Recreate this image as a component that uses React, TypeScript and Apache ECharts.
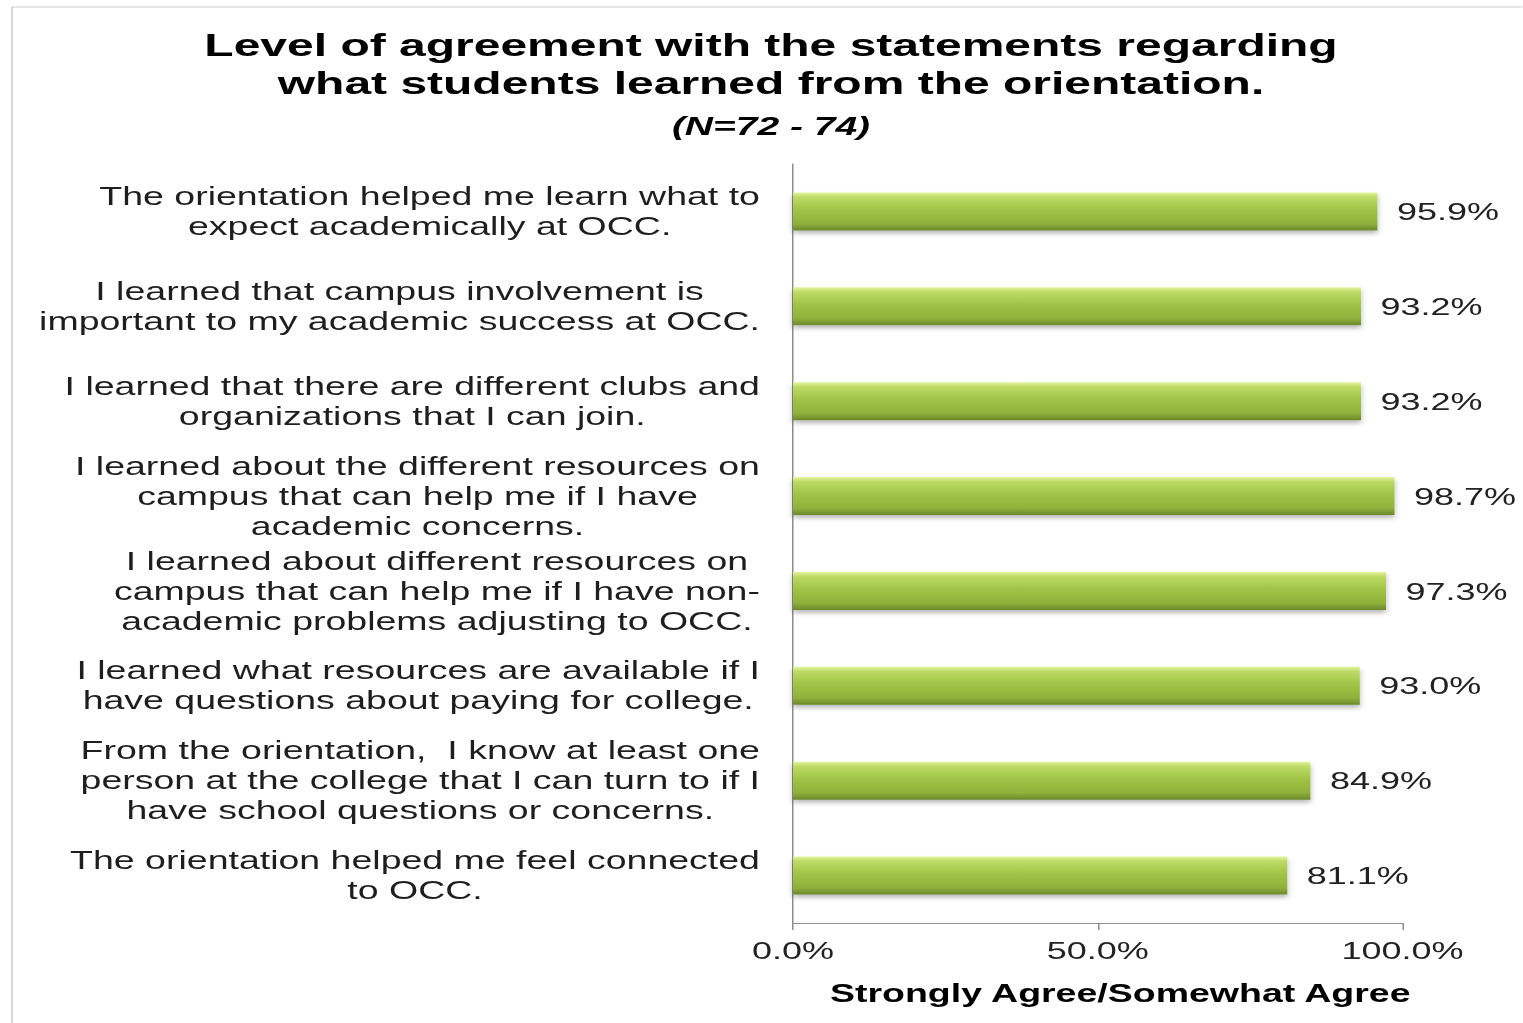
import React, { useEffect, useRef } from "react";
import * as echarts from "echarts";

const categories: string[] = [
  "The orientation helped me learn what to\nexpect academically at OCC.",
  "I learned that campus involvement is\nimportant to my academic success at OCC.",
  "I learned that there are different clubs and\norganizations that I can join.",
  "I learned about the different resources on\ncampus that can help me if I have\nacademic concerns.",
  "I learned about different resources on\ncampus that can help me if I have non-\nacademic problems adjusting to OCC.",
  "I learned what resources are available if I\nhave questions about paying for college.",
  "From the orientation,  I know at least one\nperson at the college that I can turn to if I\nhave school questions or concerns.",
  "The orientation helped me feel connected\nto OCC.",
];

const values: number[] = [95.9, 93.2, 93.2, 98.7, 97.3, 93.0, 84.9, 81.1];

const titleLines: string[] = [
  "Level of agreement with the statements regarding",
  "what students learned from the orientation.",
];
const subtitle = "(N=72 - 74)";
const axisTitle = "Strongly Agree/Somewhat Agree";

const S = 1.5; // horizontal stretch of the reference
const W = 1523 / S;
const FONT = "'Liberation Sans', Arial, Helvetica, sans-serif";

export default function App() {
  const ref = useRef<HTMLDivElement>(null);

  useEffect(() => {
    if (!ref.current) return;
    const chart = echarts.init(ref.current, null, { renderer: "svg" });
    const option: any = {
      animation: false,
      backgroundColor: "#ffffff",
      textStyle: { fontFamily: FONT },
      graphic: [
        {
          type: "rect",
          shape: { x: 8, y: 7, width: 1200, height: 1200 },
          style: { fill: "none", stroke: "#c9c9c9", lineWidth: 1 },
          silent: true,
        },
      ],
      title: {
        text: titleLines.join("\n"),
        subtext: subtitle,
        left: 514,
        top: 26,
        textAlign: "center",
        padding: 0,
        itemGap: 9,
        textStyle: {
          fontFamily: FONT,
          fontSize: 32,
          fontWeight: "bold",
          color: "#000000",
          lineHeight: 38,
        },
        subtextStyle: {
          fontFamily: FONT,
          fontSize: 26,
          fontWeight: "bold",
          fontStyle: "italic",
          color: "#000000",
          lineHeight: 30,
        },
      },
      grid: {
        left: 528.7,
        right: W - 935.3,
        top: 164,
        bottom: 100,
        containLabel: false,
      },
      xAxis: {
        type: "value",
        min: 0,
        max: 100,
        interval: 50,
        name: axisTitle,
        nameLocation: "middle",
        nameGap: 58,
        nameTextStyle: {
          fontFamily: FONT,
          fontSize: 25,
          fontWeight: "bold",
          color: "#000000",
          padding: [0, 0, 0, 30],
        },
        axisLine: { show: true, lineStyle: { color: "#8c8c8c", width: 1 } },
        axisTick: { show: true, length: 7, lineStyle: { color: "#8c8c8c" } },
        splitLine: { show: false },
        axisLabel: {
          margin: 15,
          fontFamily: FONT,
          fontSize: 24,
          color: "#222222",
          formatter: (v: number) => v.toFixed(1) + "%",
        },
      },
      yAxis: {
        type: "category",
        inverse: true,
        data: categories,
        axisLine: { show: true, lineStyle: { color: "#8c8c8c", width: 1 } },
        axisTick: { show: false },
        splitLine: { show: false },
        axisLabel: {
          margin: 22,
          interval: 0,
          formatter: (v: string) => `{a|${v}}`,
          rich: {
            a: {
              align: "center",
              fontFamily: FONT,
              fontSize: 25,
              lineHeight: 30,
              color: "#1e1e1e",
            },
          },
        },
      },
      series: [
        {
          type: "bar",
          data: values,
          barWidth: 38,
          itemStyle: {
            color: new echarts.graphic.LinearGradient(0, 0, 0, 1, [
              { offset: 0, color: "#e4f5a2" },
              { offset: 0.12, color: "#bedb66" },
              { offset: 0.45, color: "#a0c446" },
              { offset: 0.82, color: "#8fb13b" },
              { offset: 1, color: "#6b872b" },
            ]),
            shadowColor: "rgba(0,0,0,0.28)",
            shadowBlur: 4,
            shadowOffsetY: 3,
          },
          label: {
            show: true,
            position: "right",
            distance: 13,
            fontFamily: FONT,
            fontSize: 24,
            color: "#222222",
            formatter: (p: any) => Number(p.value).toFixed(1) + "%",
          },
        },
      ],
    };
    chart.setOption(option);
    return () => chart.dispose();
  }, []);

  return (
    <div
      style={{
        position: "fixed",
        left: 0,
        top: 0,
        width: 1523,
        height: 1023,
        overflow: "hidden",
        background: "#ffffff",
      }}
    >
      <div
        ref={ref}
        style={{
          width: W,
          height: 1023,
          transform: `scaleX(${S})`,
          transformOrigin: "0 0",
        }}
      />
    </div>
  );
}
